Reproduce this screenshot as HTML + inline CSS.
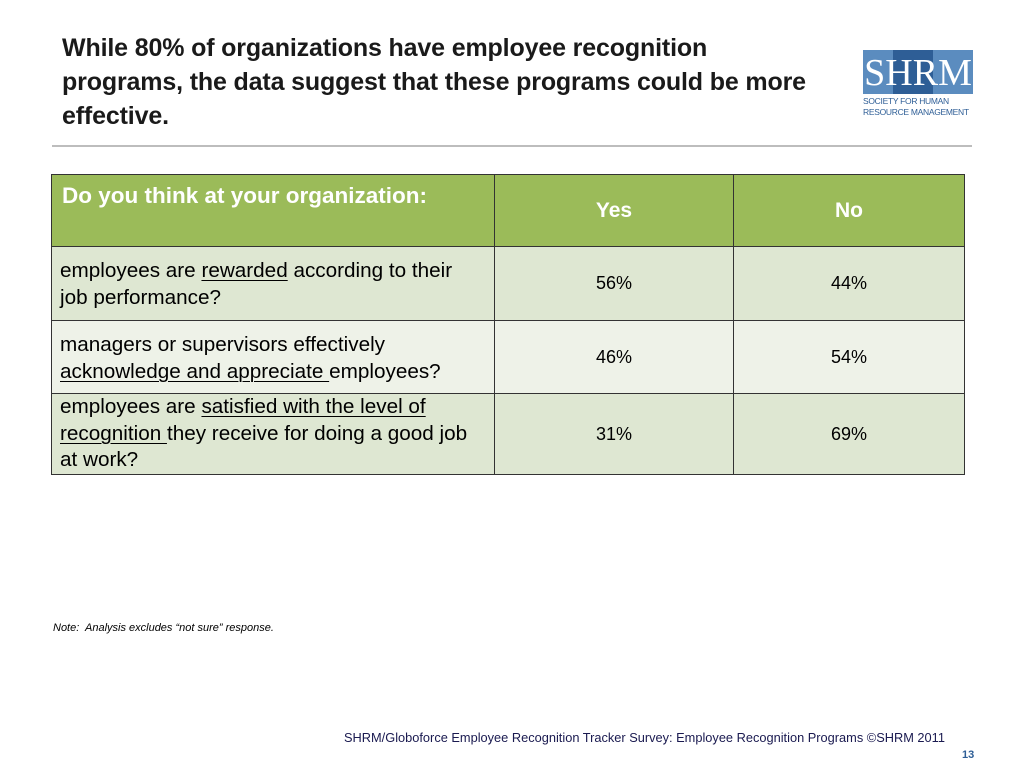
<!DOCTYPE html>
<html><head><meta charset="utf-8"><style>
body{margin:0;width:1024px;height:768px;background:#fff;position:relative;overflow:hidden;font-family:"Liberation Sans",sans-serif;color:#000}
.abs{position:absolute}
#title{left:62px;top:31px;font-weight:bold;font-size:25px;line-height:34px;color:#1a1a1a;letter-spacing:-0.15px}
td{border:1.5px solid #333;padding:0;vertical-align:middle;box-sizing:border-box}
table{position:absolute;left:51px;top:174px;border-collapse:collapse;width:914px;table-layout:fixed}
.q{font-size:20.7px;line-height:26.5px;padding:11px 6px 0 8px;vertical-align:top;white-space:nowrap}
.v{text-align:center;font-size:18px}
.hd td{background:#9bbb59;color:#fff;font-weight:bold;font-size:21px}
u{text-underline-offset:3px;text-decoration-thickness:1px}
</style></head><body>
<div id="title" class="abs">While 80% of organizations have employee recognition<br>programs, the data suggest that these programs could be more<br>effective.</div>
<div class="abs" style="left:863px;top:50px;width:110px;height:72px">
 <div class="abs" style="left:0;top:0;width:110px;height:44px;background:#5b8cbf"></div>
 <div class="abs" style="left:30px;top:0;width:40px;height:44px;background:#2e5e96"></div>
 <div class="abs" style="left:0;top:2px;width:110px;text-align:center;color:#fff;font-family:'Liberation Serif',serif;font-size:38px;line-height:42px">SHRM</div>
 <div class="abs" style="left:0;top:46px;width:112px;font-size:8.5px;line-height:11px;color:#2e5e96;letter-spacing:-0.3px">SOCIETY FOR HUMAN<br>RESOURCE MANAGEMENT</div>
</div>
<div class="abs" style="left:52px;top:145px;width:920px;height:2px;background:#bdbdbd"></div>
<table>
<colgroup><col style="width:443px"><col style="width:239px"><col></colgroup>
<tr class="hd" style="height:72px">
<td style="vertical-align:top;padding:8px 10px;font-size:22.5px">Do you think at your organization:</td>
<td style="text-align:center">Yes</td>
<td style="text-align:center">No</td></tr>
<tr style="height:74px;background:#dee7d2">
<td class="q">employees are <u>rewarded</u> according to their<br>job performance?</td><td class="v">56%</td><td class="v">44%</td></tr>
<tr style="height:73px;background:#eef2e8">
<td class="q">managers or supervisors effectively<br><u>acknowledge and appreciate </u>employees?</td><td class="v">46%</td><td class="v">54%</td></tr>
<tr style="height:81px;background:#dee7d2">
<td class="q" style="padding-top:0">employees are <u>satisfied with the level of</u><br><u>recognition </u>they receive for doing a good job<br>at work?</td><td class="v">31%</td><td class="v">69%</td></tr>
</table>
<div class="abs" style="left:53px;top:622px;font-size:11px;font-style:italic">Note:&nbsp; Analysis excludes “not sure” response.</div>
<div class="abs" style="left:344px;top:730px;font-size:12.8px;color:#1a1a50">SHRM/Globoforce Employee Recognition Tracker Survey: Employee Recognition Programs ©SHRM 2011</div>
<div class="abs" style="left:962px;top:749px;font-size:11px;font-weight:bold;color:#2e5e96">13</div>
</body></html>
